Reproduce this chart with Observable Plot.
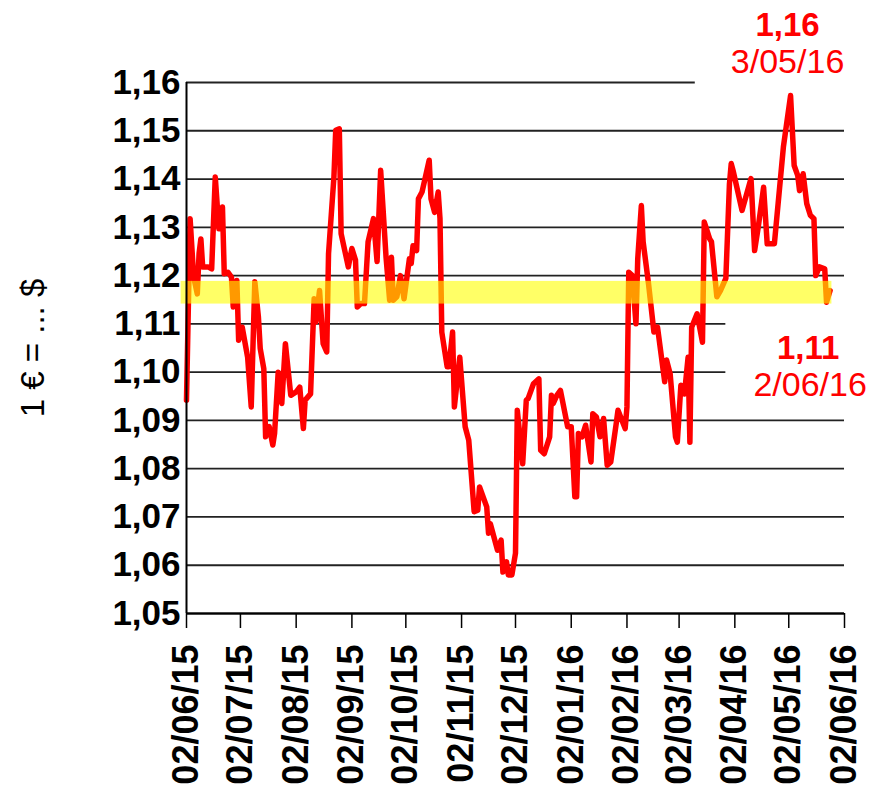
<!DOCTYPE html>
<html><head><meta charset="utf-8">
<script src="https://cdn.jsdelivr.net/npm/d3@7"></script>
<script src="https://cdn.jsdelivr.net/npm/@observablehq/plot@0.6"></script>
<style>
html,body{margin:0;padding:0;background:#fff;}
#chart{width:870px;height:795px;}
</style>
</head><body><div id="chart"></div>
<script>
const dates = [
"2015-06-02","2015-06-04","2015-06-06","2015-06-08","2015-06-09","2015-06-10","2015-06-11","2015-06-14","2015-06-16","2015-06-18",
"2015-06-20","2015-06-22","2015-06-23","2015-06-25","2015-06-27","2015-06-28","2015-06-30","2015-07-01","2015-07-03","2015-07-06",
"2015-07-08","2015-07-10","2015-07-12","2015-07-13","2015-07-15","2015-07-16","2015-07-18","2015-07-20","2015-07-21","2015-07-23",
"2015-07-25","2015-07-27","2015-07-30","2015-08-02","2015-08-04","2015-08-06","2015-08-07","2015-08-10","2015-08-12","2015-08-13",
"2015-08-15","2015-08-17","2015-08-19","2015-08-20","2015-08-23","2015-08-24","2015-08-26","2015-08-27","2015-08-31","2015-09-02",
"2015-09-04","2015-09-05","2015-09-07","2015-09-09","2015-09-11","2015-09-14","2015-09-16","2015-09-18","2015-09-21","2015-09-23",
"2015-09-24","2015-09-25","2015-09-27","2015-09-29","2015-10-01","2015-10-04","2015-10-05","2015-10-06","2015-10-08","2015-10-09",
"2015-10-11","2015-10-15","2015-10-16","2015-10-18","2015-10-20","2015-10-21","2015-10-22","2015-10-25","2015-10-26","2015-10-28",
"2015-10-29","2015-11-01","2015-11-04","2015-11-06","2015-11-09","2015-11-11","2015-11-12","2015-11-16","2015-11-17","2015-11-18",
"2015-11-22","2015-11-24","2015-11-25","2015-11-27","2015-11-28","2015-11-30","2015-12-02","2015-12-03","2015-12-06","2015-12-08",
"2015-12-09","2015-12-12","2015-12-15","2015-12-16","2015-12-18","2015-12-21","2015-12-22","2015-12-23","2015-12-25","2015-12-27",
"2015-12-31","2016-01-02","2016-01-04","2016-01-05","2016-01-06","2016-01-08","2016-01-10","2016-01-13","2016-01-14","2016-01-16",
"2016-01-18","2016-01-20","2016-01-22","2016-01-24","2016-01-27","2016-01-28","2016-02-01","2016-02-02","2016-02-03","2016-02-05",
"2016-02-07","2016-02-08","2016-02-10","2016-02-11","2016-02-14","2016-02-17","2016-02-19","2016-02-23","2016-02-24","2016-02-26",
"2016-02-29","2016-03-01","2016-03-03","2016-03-05","2016-03-07","2016-03-08","2016-03-09","2016-03-12","2016-03-15","2016-03-16",
"2016-03-19","2016-03-20","2016-03-23","2016-03-25","2016-03-28","2016-03-30","2016-03-31","2016-04-01","2016-04-06","2016-04-11",
"2016-04-13","2016-04-15","2016-04-18","2016-04-20","2016-04-24","2016-04-29","2016-05-03","2016-05-05","2016-05-07","2016-05-08",
"2016-05-10","2016-05-12","2016-05-14","2016-05-16","2016-05-17","2016-05-19","2016-05-22","2016-05-23","2016-05-25"
];
const rates = [
1.0942,1.1318,1.1197,1.1162,1.1246,1.1276,1.1218,1.1218,1.1214,1.1404,
1.1297,1.1342,1.1204,1.1207,1.1197,1.1135,1.1190,1.1066,1.1093,1.1031,
1.0928,1.1187,1.1114,1.1049,1.1007,1.0866,1.0887,1.0849,1.0873,1.1000,
1.0935,1.1059,1.0952,1.0959,1.0969,1.0883,1.0942,1.0955,1.1152,1.1104,
1.1169,1.1059,1.1042,1.1245,1.1404,1.1501,1.1504,1.1287,1.1218,1.1256,
1.1232,1.1135,1.1142,1.1142,1.1270,1.1318,1.1229,1.1418,1.1238,1.1149,
1.1238,1.1149,1.1156,1.1200,1.1152,1.1235,1.1225,1.1262,1.1252,1.1359,
1.1373,1.1439,1.1359,1.1331,1.1373,1.1318,1.1083,1.1011,1.1011,1.1083,
1.0928,1.1031,1.0887,1.0859,1.0711,1.0714,1.0762,1.0721,1.0666,1.0686,
1.0631,1.0652,1.0586,1.0607,1.0580,1.0580,1.0625,1.0921,1.0810,1.0942,
1.0945,1.0976,1.0986,1.0838,1.0831,1.0866,1.0952,1.0935,1.0952,1.0962,
1.0887,1.0887,1.0742,1.0742,1.0873,1.0866,1.0890,1.0814,1.0914,1.0907,
1.0866,1.0904,1.0807,1.0814,1.0893,1.0921,1.0883,1.0928,1.1207,1.1200,
1.1100,1.1235,1.1345,1.1270,1.1183,1.1083,1.1093,1.0980,1.1025,1.0997,
1.0866,1.0855,1.0973,1.0955,1.1031,1.0855,1.1093,1.1121,1.1062,1.1311,
1.1276,1.1270,1.1156,1.1169,1.1194,1.1390,1.1432,1.1418,1.1335,1.1401,
1.1252,1.1300,1.1383,1.1266,1.1266,1.1466,1.1573,1.1428,1.1407,1.1376,
1.1411,1.1349,1.1325,1.1318,1.1200,1.1218,1.1214,1.1145,1.1169
];
const yTicks = [1.05,1.06,1.07,1.08,1.09,1.10,1.11,1.12,1.13,1.14,1.15,1.16];
const xTicks = ["2015-06-02","2015-07-02","2015-08-02","2015-09-02","2015-10-02","2015-11-02","2015-12-02",
                "2016-01-02","2016-02-02","2016-03-02","2016-04-02","2016-05-02","2016-06-02"];
const bandValues = [1.1141, 1.1188];
const bandDates = ["2015-05-30", "2016-05-26"];
const yTitle = "1 € = ... $";
const peakNote = {date: "2016-05-03", value: 1.16, big: "1,16", small: "3/05/16"};
const lastNote = {date: "2016-05-25", value: 1.1169, big: "1,11", small: "2/06/16"};
// white label boxes of the two data labels (they hide the grid lines behind them)
const noteBoxes = [
  {x1: "2016-03-11", x2: "2016-06-12", y1: 1.1585, y2: 1.172},
  {x1: "2016-03-28", x2: "2016-06-12", y1: 1.0975, y2: 1.1125}
];

const parse = d3.utcParse("%Y-%m-%d");
const fmt = d3.utcFormat("%d/%m/%y");
const series = dates.map((d, i) => ({date: parse(d), rate: rates[i]}));
const tickDates = xTicks.map(parse);
const boxes = noteBoxes.map(b => ({...b, x1: parse(b.x1), x2: parse(b.x2)}));
const font = "'Liberation Sans', Arial, Helvetica, sans-serif";
const comma = v => v.toFixed(2).replace(".", ",");

const chart = Plot.plot({
  width: 870,
  height: 795,
  marginLeft: 186,
  marginRight: 26,
  marginTop: 82,
  marginBottom: 182,
  style: {fontFamily: font, background: "#fff", overflow: "visible"},
  x: {type: "utc", domain: [tickDates[0], tickDates[tickDates.length - 1]]},
  y: {domain: [1.05, 1.16]},
  marks: [
    Plot.ruleY(yTicks, {stroke: "#222", strokeWidth: 1.8}),
    Plot.rect(boxes, {x1: "x1", x2: "x2", y1: "y1", y2: "y2", fill: "#fff"}),
    Plot.line(series, {x: "date", y: "rate", stroke: "#ff0000", strokeWidth: 5.5, strokeLinejoin: "round", strokeLinecap: "round"}),
    Plot.rect([bandValues], {x1: () => parse(bandDates[0]), x2: () => parse(bandDates[1]), y1: d => d[0], y2: d => d[1], fill: "#ffff00", fillOpacity: 0.6}),
    Plot.ruleX([tickDates[0]], {y1: 1.05, y2: 1.16, stroke: "#000", strokeWidth: 2}),
    Plot.ruleY([1.05], {stroke: "#000", strokeWidth: 2}),
    Plot.axisY({ticks: yTicks, tickFormat: comma, tickSize: 0, tickPadding: 6, fontSize: 35, fontWeight: "bold", fill: "#000", label: null}),
    Plot.axisX({ticks: tickDates, tickFormat: fmt, tickRotate: -90, tickSize: 15, tickPadding: 16, fontSize: 36, fontWeight: "bold", fill: "#000", stroke: "#000", strokeWidth: 1.5, label: null}),
    Plot.text([yTitle], {frameAnchor: "left", textAnchor: "middle", rotate: -90, dx: -153, fontSize: 33, fill: "#000"}),
    Plot.text([peakNote], {x: d => parse(d.date), y: "value", text: "big", dx: -3, dy: -57, fontSize: 33, fontWeight: "bold", fill: "#ff0000"}),
    Plot.text([peakNote], {x: d => parse(d.date), y: "value", text: "small", dx: -3, dy: -20, fontSize: 34, fill: "#ff0000"}),
    Plot.text([lastNote], {x: d => parse(d.date), y: "value", text: "big", dx: -22, dy: 58, fontSize: 33, fontWeight: "bold", fill: "#ff0000"}),
    Plot.text([lastNote], {x: d => parse(d.date), y: "value", text: "small", dx: -20, dy: 95, fontSize: 34, fill: "#ff0000"})
  ]
});
document.getElementById("chart").appendChild(chart);
</script>
</body></html>
